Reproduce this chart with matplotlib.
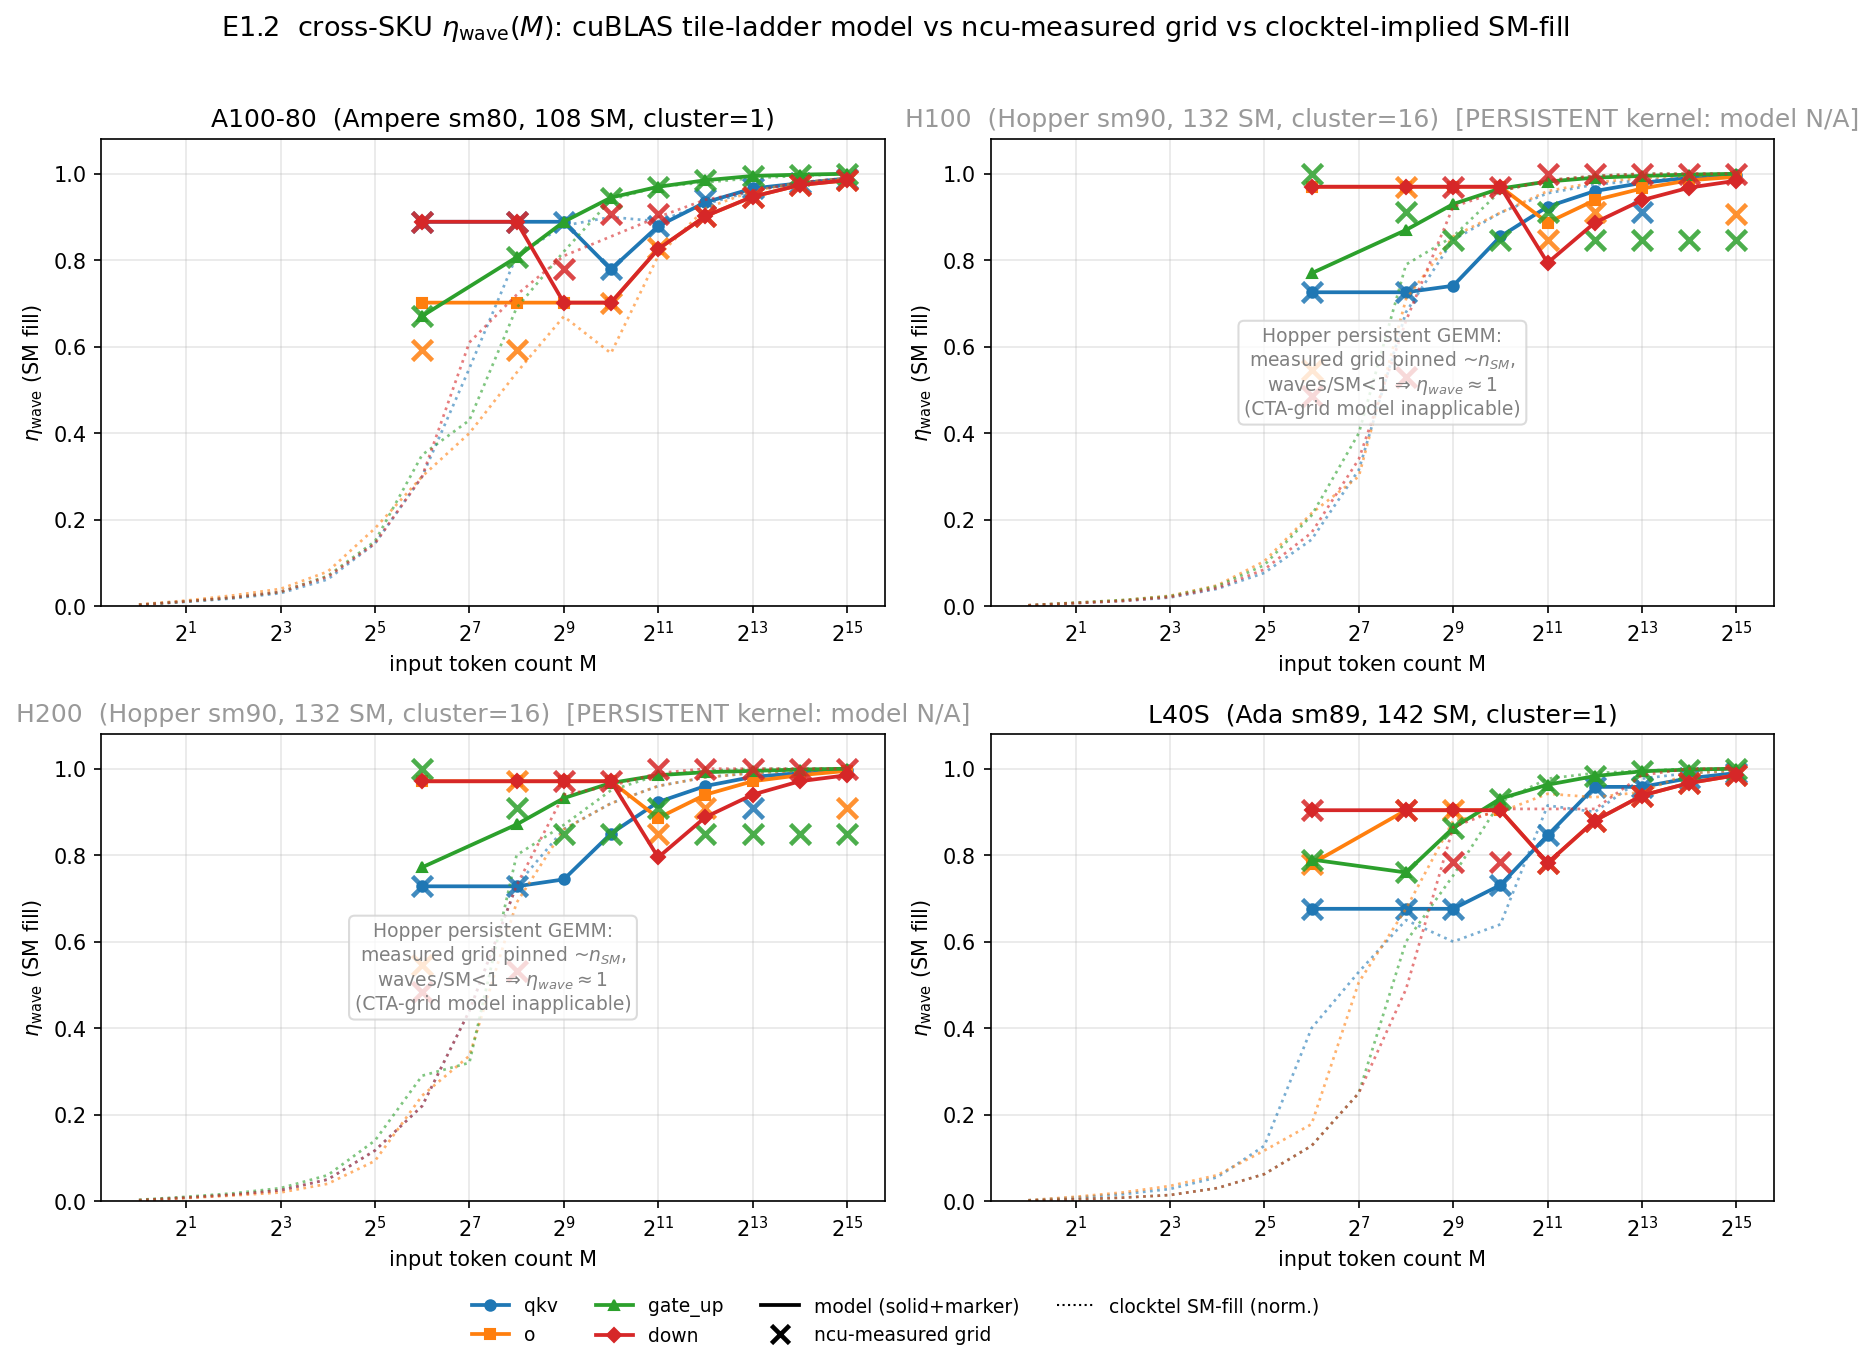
import numpy as np
import matplotlib
matplotlib.use("Agg")
import matplotlib.pyplot as plt
from matplotlib.lines import Line2D
from matplotlib.ticker import LogFormatterSciNotation, NullLocator

nan = np.nan

# eixos: M do modelo / ncu e M do clocktel
M_model = [64, 256, 512, 1024, 2048, 4096, 8192, 16384, 32768]
M_clock = [2 ** k for k in range(16)]
ops = ["qkv", "o", "gate_up", "down"]
op_markers = ["o", "s", "^", "D"]
op_colors = ["C0", "C1", "C2", "C3"]

sku_titles = [
    "A100-80  (Ampere sm80, 108 SM, cluster=1)",
    "H100  (Hopper sm90, 132 SM, cluster=16)  [PERSISTENT kernel: model N/A]",
    "H200  (Hopper sm90, 132 SM, cluster=16)  [PERSISTENT kernel: model N/A]",
    "L40S  (Ada sm89, 142 SM, cluster=1)",
]
sku_persistent = [False, True, True, False]

# ---- A100 ----
a100_model = {
    "qkv": [0.889, 0.889, 0.889, 0.779, 0.879, 0.934, 0.966, 0.978, 0.989],
    "o": [0.702, 0.702, 0.702, 0.702, 0.826, 0.902, 0.947, 0.974, 0.985],
    "gate_up": [0.671, 0.807, 0.889, 0.945, 0.970, 0.985, 0.995, 0.998, 1.0],
    "down": [0.889, 0.889, 0.702, 0.702, 0.826, 0.902, 0.947, 0.974, 0.985],
}
a100_meas = {
    "qkv": [0.889, 0.889, 0.889, 0.779, 0.879, 0.942, 0.966, 0.978, 0.989],
    "o": [0.593, 0.593, nan, 0.702, 0.828, 0.902, 0.947, 0.974, 0.985],
    "gate_up": [0.671, 0.807, nan, 0.945, 0.970, 0.985, 0.995, 0.998, 1.0],
    "down": [0.889, 0.889, 0.779, 0.907, 0.908, 0.902, 0.947, 0.974, 0.985],
}
a100_clock = {
    "qkv": [0.003, 0.010, 0.018, 0.030, 0.062, 0.145, 0.30, 0.55, 0.81, 0.88, 0.90, 0.89, 0.93, 0.96, 0.98, 0.99],
    "o": [0.004, 0.013, 0.025, 0.040, 0.080, 0.180, 0.30, 0.40, 0.54, 0.67, 0.585, 0.81, 0.92, 0.96, 0.98, 0.99],
    "gate_up": [0.003, 0.011, 0.020, 0.033, 0.070, 0.150, 0.35, 0.43, 0.69, 0.82, 0.94, 0.97, 0.98, 0.99, 0.995, 1.0],
    "down": [0.003, 0.011, 0.020, 0.033, 0.068, 0.145, 0.30, 0.61, 0.72, 0.81, 0.855, 0.90, 0.94, 0.96, 0.98, 0.99],
}

# ---- H100 ----
h100_model = {
    "qkv": [0.726, 0.726, 0.741, 0.855, 0.924, 0.960, 0.979, 0.991, 0.997],
    "o": [0.970, 0.970, 0.970, 0.970, 0.887, 0.939, 0.966, 0.985, 0.993],
    "gate_up": [0.770, 0.870, 0.930, 0.966, 0.982, 0.991, 0.995, 0.998, 1.0],
    "down": [0.970, 0.970, 0.970, 0.970, 0.794, 0.887, 0.939, 0.968, 0.984],
}
h100_meas = {
    "qkv": [0.726, 0.726, nan, nan, nan, nan, 0.912, nan, nan],
    "o": [0.547, 0.970, nan, nan, 0.847, 0.912, nan, nan, 0.908],
    "gate_up": [1.0, 0.912, 0.847, 0.847, 0.912, 0.847, 0.847, 0.847, 0.847],
    "down": [0.485, 0.531, 0.970, 0.970, 1.0, 1.0, 1.0, 1.0, 1.0],
}
h100_clock = {
    "qkv": [0.002, 0.007, 0.012, 0.020, 0.040, 0.077, 0.154, 0.315, 0.68, 0.847, 0.91, 0.955, 0.975, 0.985, 0.99, 0.995],
    "o": [0.002, 0.008, 0.014, 0.024, 0.048, 0.104, 0.215, 0.30, 0.71, 0.855, 0.91, 0.96, 0.98, 0.99, 0.995, 1.0],
    "gate_up": [0.002, 0.008, 0.014, 0.023, 0.046, 0.095, 0.21, 0.40, 0.79, 0.855, 0.96, 0.985, 0.995, 1.0, 1.0, 1.0],
    "down": [0.002, 0.007, 0.012, 0.021, 0.042, 0.085, 0.17, 0.34, 0.66, 0.924, 0.96, 0.985, 0.995, 1.0, 1.0, 1.0],
}

# ---- H200 ----
h200_model = {
    "qkv": [0.728, 0.728, 0.744, 0.850, 0.923, 0.960, 0.981, 0.990, 0.997],
    "o": [0.971, 0.971, 0.971, 0.971, 0.886, 0.940, 0.971, 0.985, 0.995],
    "gate_up": [0.772, 0.871, 0.932, 0.967, 0.985, 0.992, 0.995, 0.998, 1.0],
    "down": [0.971, 0.971, 0.971, 0.971, 0.795, 0.888, 0.940, 0.971, 0.985],
}
h200_meas = {
    "qkv": [0.728, 0.728, nan, nan, nan, nan, 0.910, nan, nan],
    "o": [0.545, 0.971, nan, nan, 0.850, 0.910, nan, nan, 0.910],
    "gate_up": [1.0, 0.910, 0.850, 0.850, 0.910, 0.850, 0.850, 0.850, 0.850],
    "down": [0.483, 0.533, 0.971, 0.971, 1.0, 1.0, 1.0, 1.0, 1.0],
}
h200_clock = {
    "qkv": [0.002, 0.008, 0.015, 0.025, 0.050, 0.117, 0.22, 0.44, 0.73, 0.86, 0.92, 0.96, 0.98, 0.99, 0.995, 1.0],
    "o": [0.002, 0.007, 0.013, 0.020, 0.040, 0.093, 0.244, 0.336, 0.69, 0.86, 0.92, 0.96, 0.98, 0.99, 0.995, 1.0],
    "gate_up": [0.003, 0.010, 0.018, 0.030, 0.060, 0.14, 0.29, 0.32, 0.80, 0.87, 0.95, 0.985, 0.995, 1.0, 1.0, 1.0],
    "down": [0.002, 0.008, 0.015, 0.025, 0.050, 0.117, 0.22, 0.44, 0.73, 0.94, 0.96, 0.99, 1.0, 1.0, 1.0, 1.0],
}

# ---- L40S ----
l40s_model = {
    "qkv": [0.676, 0.676, 0.676, 0.731, 0.846, 0.958, 0.958, 0.978, 0.990],
    "o": [0.780, 0.904, 0.904, 0.904, 0.782, 0.880, 0.938, 0.967, 0.985],
    "gate_up": [0.790, 0.760, 0.863, 0.931, 0.963, 0.983, 0.994, 0.998, 1.0],
    "down": [0.904, 0.904, 0.904, 0.904, 0.782, 0.880, 0.938, 0.967, 0.985],
}
l40s_meas = {
    "qkv": [0.676, 0.676, 0.676, 0.731, 0.846, 0.958, 0.958, 0.978, 0.990],
    "o": [0.780, 0.904, 0.904, nan, 0.782, 0.880, 0.938, 0.967, 0.985],
    "gate_up": [0.790, 0.760, 0.863, 0.931, 0.963, 0.983, 0.994, 0.998, 1.0],
    "down": [0.904, 0.904, 0.784, 0.784, 0.782, 0.880, 0.938, 0.967, 0.985],
}
l40s_clock = {
    "qkv": [0.002, 0.008, 0.016, 0.028, 0.055, 0.128, 0.40, 0.53, 0.65, 0.60, 0.64, 0.915, 0.90, 0.977, 0.99, 0.995],
    "o": [0.002, 0.010, 0.020, 0.035, 0.060, 0.117, 0.178, 0.506, 0.676, 0.88, 0.90, 0.942, 0.934, 0.946, 0.99, 0.995],
    "gate_up": [0.001, 0.004, 0.008, 0.014, 0.030, 0.0625, 0.128, 0.25, 0.60, 0.753, 0.923, 0.977, 0.99, 0.995, 1.0, 1.0],
    "down": [0.001, 0.004, 0.008, 0.014, 0.030, 0.0625, 0.128, 0.25, 0.49, 0.865, 0.907, 0.907, 0.907, 0.985, 1.0, 1.0],
}

all_model = [a100_model, h100_model, h200_model, l40s_model]
all_meas = [a100_meas, h100_meas, h200_meas, l40s_meas]
all_clock = [a100_clock, h100_clock, h200_clock, l40s_clock]

note = ("Hopper persistent GEMM:\nmeasured grid pinned ~$n_{SM}$,\n"
        "waves/SM<1 \u21d2 $\\eta_{wave}\\approx 1$\n(CTA-grid model inapplicable)")


def gerar_grafico():
    fig, axes = plt.subplots(2, 2, figsize=(12.49, 9.13), dpi=150)
    fig.subplots_adjust(left=0.054, right=0.947, top=0.898, bottom=0.1226,
                        wspace=0.135, hspace=0.274)

    for idx, ax in enumerate(axes.flat):
        for j, op in enumerate(ops):
            c = op_colors[j]
            # clocktel pontilhado
            ax.plot(M_clock, all_clock[idx][op], linestyle=":", color=c,
                    lw=1.3, alpha=0.6)
            # modelo
            ax.plot(M_model, all_model[idx][op], linestyle="-", color=c,
                    lw=1.8, marker=op_markers[j], markersize=5)
            # ncu medido
            ax.plot(M_model, all_meas[idx][op], linestyle="none", color=c,
                    marker="x", markersize=10, mew=2.2, alpha=0.85)

        ax.set_xscale("log", base=2)
        ax.set_xticks([2 ** k for k in range(1, 16, 2)])
        ax.xaxis.set_major_formatter(LogFormatterSciNotation(base=2))
        ax.xaxis.set_minor_locator(NullLocator())
        ax.set_xlim(2 ** -0.8, 2 ** 15.8)
        ax.set_ylim(0, 1.08)
        ax.grid(True, alpha=0.3)
        ax.set_xlabel("input token count M")
        ax.set_ylabel("$\\eta_{\\rm wave}$ (SM fill)")

        if sku_persistent[idx]:
            ax.set_title(sku_titles[idx], color="#999999", fontsize=12)
            ax.text(0.5, 0.5, note, transform=ax.transAxes, ha="center",
                    va="center", color="gray", fontsize=9,
                    bbox=dict(boxstyle="round", facecolor="white",
                              edgecolor="lightgray", alpha=0.8))
        else:
            ax.set_title(sku_titles[idx], fontsize=12)

    # legenda comum
    handles = [Line2D([0], [0], color=op_colors[j], marker=op_markers[j],
                      lw=1.8, markersize=5, label=op) for j, op in enumerate(ops)]
    handles.append(Line2D([0], [0], color="k", lw=1.8, label="model (solid+marker)"))
    handles.append(Line2D([0], [0], color="k", linestyle="none", marker="x",
                          markersize=9, mew=2.2, label="ncu-measured grid"))
    handles.append(Line2D([0], [0], color="k", linestyle=":", lw=1.0,
                          label="clocktel SM-fill (norm.)"))
    fig.legend(handles=handles, loc="lower center", ncol=4, frameon=False,
               fontsize=9, bbox_to_anchor=(0.478, 0.005))

    fig.suptitle("E1.2  cross-SKU $\\eta_{\\rm wave}(M)$: cuBLAS tile-ladder model "
                 "vs ncu-measured grid vs clocktel-implied SM-fill",
                 fontsize=13, x=0.478, y=0.99)

    fig.savefig("out.png", dpi=150)


if __name__ == "__main__":
    gerar_grafico()
